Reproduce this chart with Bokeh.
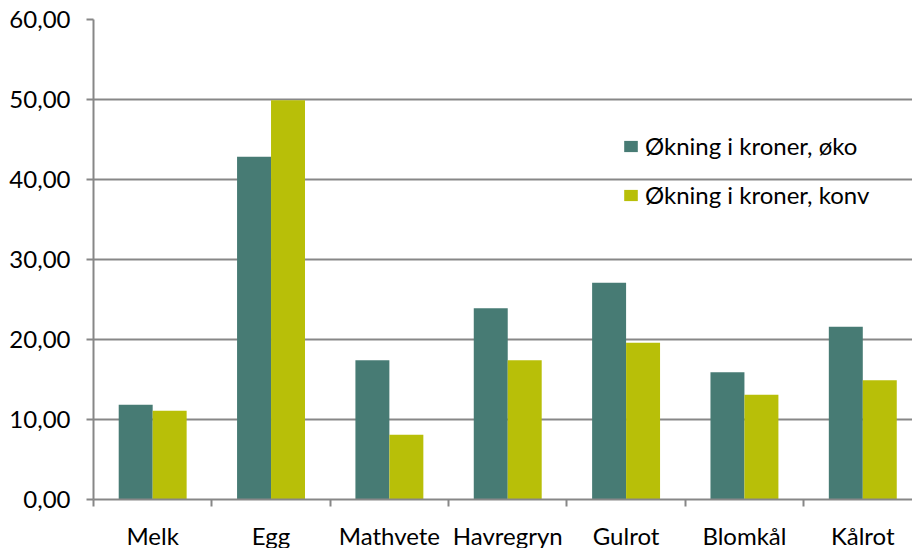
from bokeh.plotting import figure
from bokeh.models import ColumnDataSource, FixedTicker, Range1d, Legend, LegendItem
from bokeh.embed import file_html
from bokeh.resources import INLINE

# Price increase per product, NOK
categories = ["Melk", "Egg", "Mathvete", "Havregryn", "Gulrot", "Blomkål", "Kålrot"]
oko = [11.85, 42.85, 17.4, 23.9, 27.1, 15.9, 21.6]
konv = [11.1, 49.9, 8.1, 17.4, 19.6, 13.1, 14.9]
y_ticks = [0, 10, 20, 30, 40, 50, 60]
y_tick_labels = ["0,00", "10,00", "20,00", "30,00", "40,00", "50,00", "60,00"]

FONT = "Lato"
FONT_SIZE = "24px"
GRID = "#878787"
C_OKO = "#477B74"
C_KONV = "#B8BF08"

bar_w = 0.287
centers = [i + 0.5 for i in range(len(categories))]
src = ColumnDataSource(dict(
    x_oko=[c - bar_w / 2 for c in centers],
    x_konv=[c + bar_w / 2 for c in centers],
    oko=oko,
    konv=konv,
))

p = figure(frame_width=819, frame_height=480, output_backend="svg", toolbar_location=None,
           x_range=Range1d(0, 6.92), y_range=Range1d(0, 60),
           min_border_left=93, min_border_right=0, min_border_top=19,
           min_border_bottom=49)
p.outline_line_color = None
p.background_fill_color = "white"
p.border_fill_color = "white"

r1 = p.vbar(x="x_oko", top="oko", width=bar_w, source=src,
            fill_color=C_OKO, line_color=None)
r2 = p.vbar(x="x_konv", top="konv", width=bar_w, source=src,
            fill_color=C_KONV, line_color=None)

# y axis
p.yaxis.ticker = FixedTicker(ticks=y_ticks)
p.yaxis.major_label_overrides = {t: l for t, l in zip(y_ticks, y_tick_labels)}
p.yaxis.axis_line_color = GRID
p.yaxis.axis_line_width = 2
p.yaxis.major_tick_line_color = GRID
p.yaxis.major_tick_line_width = 2
p.yaxis.major_tick_out = 7
p.yaxis.major_tick_in = 0
p.yaxis.minor_tick_line_color = None
p.yaxis.major_label_standoff = 16
p.yaxis.major_label_text_font = FONT
p.yaxis.major_label_text_font_size = FONT_SIZE
p.yaxis.major_label_text_color = "#000000"

# x axis: labels at category centres, ticks between categories
p.xaxis.ticker = FixedTicker(ticks=centers, minor_ticks=list(range(0, 8)))
p.xaxis.major_label_overrides = {c: n for c, n in zip(centers, categories)}
p.xaxis.axis_line_color = GRID
p.xaxis.axis_line_width = 2
p.xaxis.major_tick_line_color = None
p.xaxis.major_tick_out = 0
p.xaxis.major_tick_in = 0
p.xaxis.minor_tick_line_color = GRID
p.xaxis.minor_tick_line_width = 2
p.xaxis.minor_tick_out = 7
p.xaxis.minor_tick_in = 0
p.xaxis.major_label_standoff = 14
p.xaxis.major_label_text_font = FONT
p.xaxis.major_label_text_font_size = FONT_SIZE
p.xaxis.major_label_text_color = "#000000"

p.xgrid.grid_line_color = None
p.ygrid.ticker = FixedTicker(ticks=y_ticks)
p.ygrid.grid_line_color = GRID
p.ygrid.grid_line_width = 2

legend = Legend(items=[
    LegendItem(label="Økning i kroner, øko", renderers=[r1]),
    LegendItem(label="Økning i kroner, konv", renderers=[r2]),
], location=(529, 290))
legend.border_line_color = None
legend.background_fill_alpha = 0
legend.padding = 0
legend.margin = 0
legend.spacing = 20
legend.glyph_width = 17
legend.glyph_height = 14
legend.label_height = 24
legend.label_standoff = 6
legend.label_text_font = FONT
legend.label_text_font_size = FONT_SIZE
legend.label_text_color = "#000000"
p.add_layout(legend, "center")

open("out.html", "w").write(file_html(p, INLINE))
